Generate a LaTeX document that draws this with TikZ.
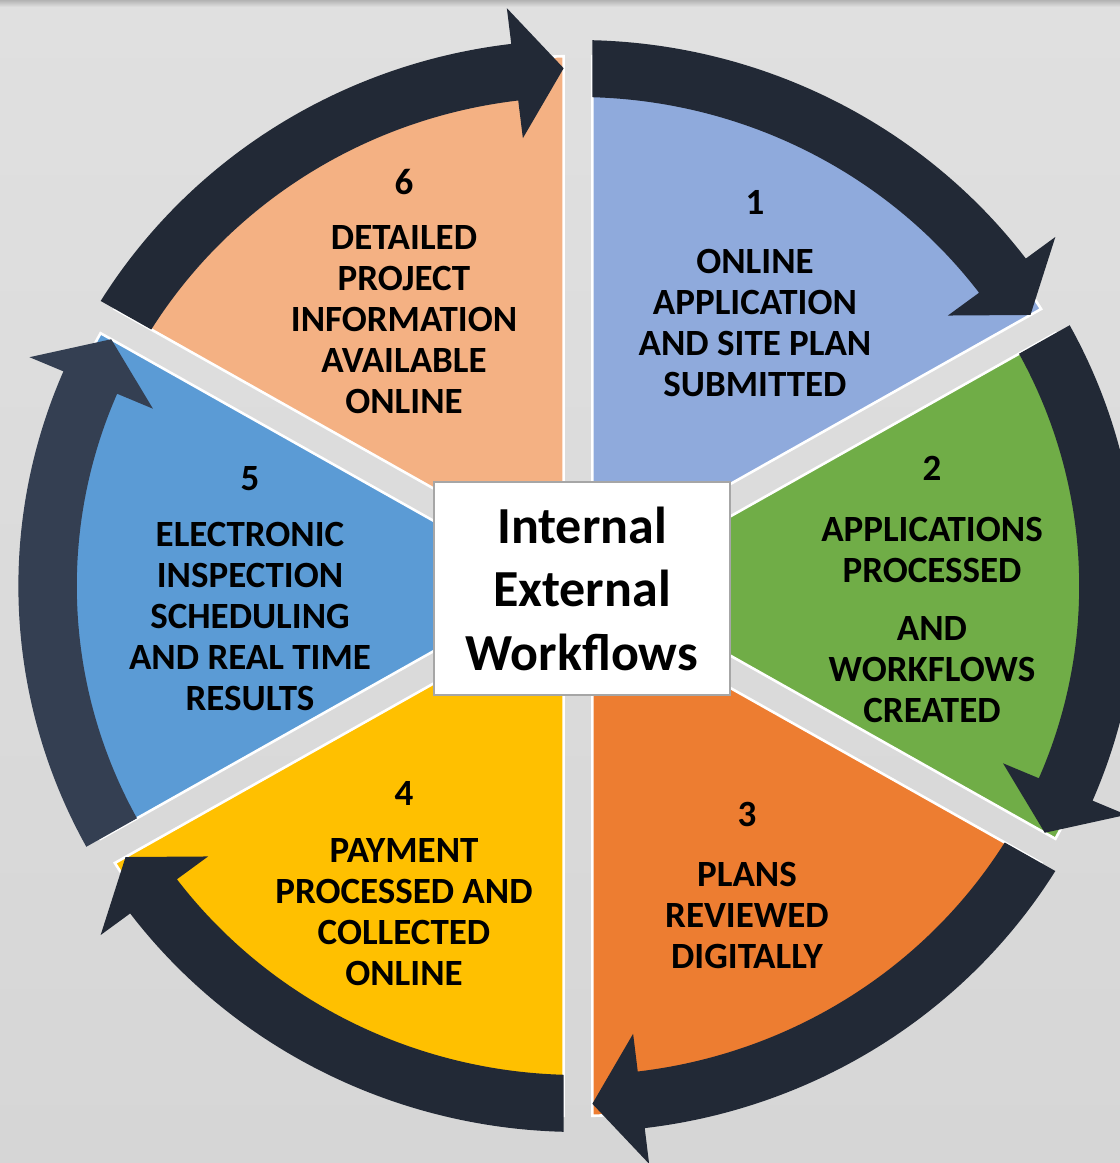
\documentclass[tikz,border=0pt]{standalone}
\usepackage{fontspec}
\setmainfont{Carlito}
\definecolor{cA}{HTML}{8FAADC}
\definecolor{cB}{HTML}{70AD47}
\definecolor{cC}{HTML}{ED7D31}
\definecolor{cD}{HTML}{FFC000}
\definecolor{cE}{HTML}{5B9BD5}
\definecolor{cF}{HTML}{F4B183}
\definecolor{arrdark}{HTML}{222936}
\definecolor{arrmid}{HTML}{343F52}
\definecolor{boxgray}{HTML}{A6A6A6}
\definecolor{bgtop}{HTML}{E0E0E0}
\definecolor{bgbot}{HTML}{D6D6D6}
\newcommand{\pieslice}[2]{%
  \pgfmathsetmacro\Sa{#1+1.51}%
  \pgfmathsetmacro\Sb{#1+60-1.51}%
  \pgfmathsetmacro\Sm{#1+30}%
  \filldraw[slicestyle, fill=#2] (\Sm:28) -- (\Sa:530)
    arc[start angle=\Sa, end angle=\Sb, radius=530] -- cycle;}
\newcommand{\cycarrow}[2]{%
  \pgfmathsetmacro\Ta{#1-1.47}%
  \pgfmathsetmacro\Tb{#1-1.64}%
  \pgfmathsetmacro\Tip{#1-60+1.55}%
  \pgfmathsetmacro\Bk{\Tip+5.3}%
  \fill[#2] (\Ta:546) arc[start angle=\Ta, end angle=\Bk, radius=546]
    -- (\Bk:582) -- (\Tip:518) -- (\Bk:451) -- (\Bk:489)
    arc[start angle=\Bk, end angle=\Tb, radius=489] -- cycle;}
\tikzset{
  slicestyle/.style={draw=white, line width=1.3pt, line join=miter},
  label/.style={font=\fontsize{18.5}{20.5}\selectfont\bfseries, align=center, text=black, inner sep=0pt},
  numlabel/.style={font=\fontsize{18.5}{20.5}\selectfont\bfseries, text=black, inner sep=0pt},
  centerbox/.style={draw=boxgray, line width=1pt, fill=white, minimum width=148pt, minimum height=106.5pt,
    inner sep=0pt, align=center, font=\fontsize{26}{31.75}\selectfont\bfseries}
}
\begin{document}
\begin{tikzpicture}[x=0.5pt,y=0.5pt]
\useasboundingbox (-578,-577) rectangle (542,586);
\shade[top color=bgtop, bottom color=bgbot] (-578,-577) rectangle (542,586);
\shade[top color=black!30, bottom color=bgtop] (-578,579) rectangle (542,586);
\begin{scope}[xscale=1.025]
  \pieslice{30}{cA}
  \pieslice{-30}{cB}
  \pieslice{-90}{cC}
  \pieslice{-150}{cD}
  \pieslice{150}{cE}
  \pieslice{90}{cF}
  \cycarrow{90}{arrdark}
  \cycarrow{30}{arrdark}
  \cycarrow{-30}{arrdark}
  \cycarrow{-90}{arrdark}
  \cycarrow{210}{arrmid}
  \cycarrow{150}{arrdark}
\end{scope}
\node[centerbox] (hub) at (4,-2.5) {Internal\\External\\Workflows};
\node[numlabel] (n1) at (177,384) {1};
\node[label] (t1) at (177,262.5) {ONLINE\\APPLICATION\\AND SITE PLAN\\SUBMITTED};
\node[numlabel] (n2) at (354,118) {2};
\node[label] (t2) at (354,-33.5) {APPLICATIONS\\PROCESSED\\[8.5pt]AND\\WORKFLOWS\\CREATED};
\node[numlabel] (n3) at (169,-228) {3};
\node[label] (t3) at (169,-329.5) {PLANS\\REVIEWED\\DIGITALLY};
\node[numlabel] (n4) at (-174,-207) {4};
\node[label] (t4) at (-174,-326) {PAYMENT\\PROCESSED AND\\COLLECTED\\ONLINE};
\node[numlabel] (n5) at (-328,107) {5};
\node[label] (t5) at (-328,-31) {ELECTRONIC\\INSPECTION\\SCHEDULING\\AND REAL TIME\\RESULTS};
\node[numlabel] (n6) at (-174,404) {6};
\node[label] (t6) at (-174,266) {DETAILED\\PROJECT\\INFORMATION\\AVAILABLE\\ONLINE};
\end{tikzpicture}
\end{document}
